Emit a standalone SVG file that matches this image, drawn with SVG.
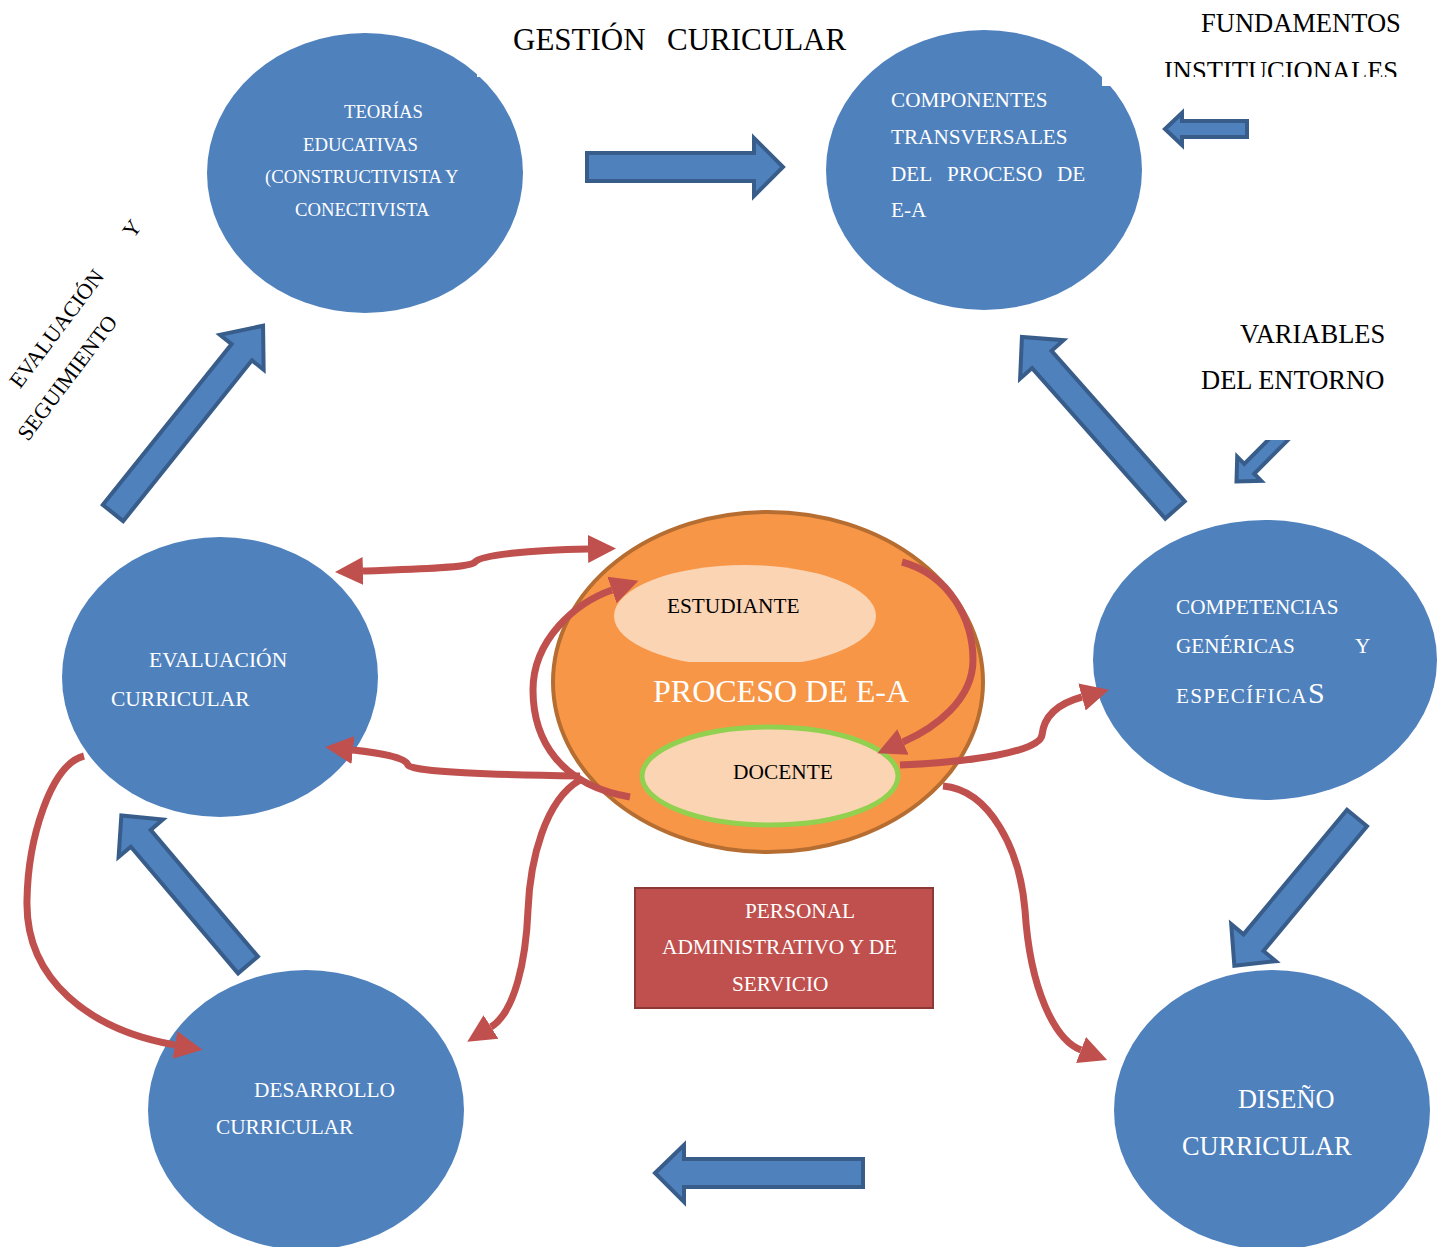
<svg xmlns="http://www.w3.org/2000/svg" width="1447" height="1247" viewBox="0 0 1447 1247">
<style>
text{font-family:"Liberation Serif","Times New Roman",serif}
.blk{fill:#000}
.wht{fill:#fff}
.node{fill:#4F81BD}
.barrow{fill:#4F81BD;stroke:#385D8A;stroke-width:4;stroke-linejoin:miter}
.rc{fill:none;stroke:#C0504D;stroke-width:7;marker-end:url(#rh)}
</style>
<defs>
<marker id="rh" markerUnits="userSpaceOnUse" markerWidth="30" markerHeight="30" refX="0" refY="15" viewBox="0 0 30 30" orient="auto-start-reverse"><path d="M0,1 L28,15 L0,29 z" fill="#C0504D"/></marker>
<clipPath id="cInst"><rect x="1100" y="40" width="347" height="37"/></clipPath>
<clipPath id="cEst"><rect x="600" y="550" width="300" height="112"/></clipPath>
<clipPath id="c8"><rect x="1200" y="440" width="200" height="100"/></clipPath>
</defs>
<rect width="1447" height="1247" fill="#fff"/>

<g id="labels">
<text x="513" y="50" font-size="31" class="blk">GESTIÓN</text>
<text x="667" y="50" font-size="31" class="blk">CURICULAR</text>
<text x="1201" y="32" font-size="26.5" class="blk">FUNDAMENTOS</text>
<g clip-path="url(#cInst)"><text x="1164" y="80" font-size="26.5" class="blk">INSTITUCIONALES</text></g>
<text x="1240" y="343" font-size="26.5" class="blk">VARIABLES</text>
<text x="1201" y="389" font-size="26.5" class="blk">DEL ENTORNO</text>
<g transform="translate(28,442) rotate(-53)">
<text x="37" y="-38" font-size="22" class="blk">EVALUACIÓN</text>
<text x="225" y="-38" font-size="22" class="blk">Y</text>
<text x="0" y="0" font-size="22" class="blk">SEGUIMIENTO</text>
</g>
</g>

<g id="teorias">
<ellipse cx="365" cy="173" rx="158" ry="140" class="node"/>
<rect x="477" y="72" width="8" height="5" fill="#fff"/>
<text x="344" y="118" font-size="18.7" class="wht">TEORÍAS</text>
<text x="303" y="151" font-size="18.7" class="wht">EDUCATIVAS</text>
<text x="265" y="183" font-size="18.7" class="wht">(CONSTRUCTIVISTA Y</text>
<text x="295" y="216" font-size="18.7" class="wht">CONECTIVISTA</text>
</g>

<g id="componentes">
<ellipse cx="984" cy="170" rx="158" ry="140" class="node"/>
<rect x="1102" y="74" width="11" height="12" fill="#fff"/>
<text x="891" y="107" font-size="21.2" class="wht">COMPONENTES</text>
<text x="891" y="144" font-size="21.2" class="wht">TRANSVERSALES</text>
<text x="891" y="181" font-size="21.2" class="wht">DEL</text>
<text x="947" y="181" font-size="21.2" class="wht">PROCESO</text>
<text x="1057" y="181" font-size="21.2" class="wht">DE</text>
<text x="891" y="217" font-size="21.2" class="wht">E-A</text>
</g>

<g id="evaluacion">
<ellipse cx="220" cy="677" rx="158" ry="140" class="node"/>
<text x="149" y="667" font-size="21.5" class="wht">EVALUACIÓN</text>
<text x="111" y="706" font-size="21.5" class="wht">CURRICULAR</text>
</g>

<g id="competencias">
<ellipse cx="1265" cy="660" rx="172" ry="140" class="node"/>
<text x="1176" y="614" font-size="21.2" class="wht">COMPETENCIAS</text>
<text x="1176" y="653" font-size="21.2" class="wht">GENÉRICAS</text>
<text x="1355" y="653" font-size="21.2" class="wht">Y</text>
<text x="1176" y="703" font-size="21.2" class="wht" letter-spacing="1.3">ESPECÍFICA<tspan font-size="30" letter-spacing="0">S</tspan></text>
</g>

<g id="desarrollo">
<ellipse cx="306" cy="1110" rx="158" ry="140" class="node"/>
<text x="254" y="1097" font-size="21.3" class="wht">DESARROLLO</text>
<text x="216" y="1134" font-size="21.3" class="wht">CURRICULAR</text>
</g>

<g id="diseno">
<ellipse cx="1272" cy="1110" rx="158" ry="140" class="node"/>
<text x="1238" y="1108" font-size="26.3" class="wht">DISEÑO</text>
<text x="1182" y="1155" font-size="26.3" class="wht">CURRICULAR</text>
</g>

<g id="proceso">
<ellipse cx="768" cy="682" rx="215" ry="170" fill="#F79646" stroke="#B66D31" stroke-width="4"/>
<g clip-path="url(#cEst)"><ellipse cx="745" cy="616" rx="131" ry="51" fill="#FBD4B4"/></g>
<text x="667" y="613" font-size="21.3" class="blk">ESTUDIANTE</text>
<text x="653" y="702" font-size="32" class="wht">PROCESO DE E-A</text>
<ellipse cx="770" cy="776" rx="128" ry="49" fill="#FBD4B4" stroke="#92D050" stroke-width="5"/>
<text x="733" y="779" font-size="21.4" class="blk">DOCENTE</text>
</g>

<g id="personal">
<rect x="635" y="888" width="298" height="120" fill="#C0504D" stroke="#8C3836" stroke-width="2"/>
<text x="745" y="918" font-size="21.3" class="wht">PERSONAL</text>
<text x="662" y="954" font-size="21.3" class="wht">ADMINISTRATIVO Y DE</text>
<text x="732" y="991" font-size="21.3" class="wht">SERVICIO</text>
</g>

<g id="connectors">
<polygon class="barrow" points="587,153 754,153 754,138 783,167 754,196 754,181 587,181"/>
<polygon class="barrow" points="863,1159 684,1159 684,1145 655,1173 684,1202 684,1187 863,1187"/>
<polygon class="barrow" points="1247,121 1182,121 1182,113 1165,129 1182,145 1182,137 1247,137"/>
<polygon class="barrow" points="0,-13 206,-13 206,-28 240,0 206,28 206,13 0,13" transform="translate(113,513) rotate(-51.3)"/>
<polygon class="barrow" points="0,-13 166,-13 166,-29 196,0 166,29 166,13 0,13" transform="translate(248,965) rotate(-130.25)"/>
<polygon class="barrow" points="0,-13 201,-13 201,-29 231,0 201,29 201,13 0,13" transform="translate(1175,510) rotate(-131.5)"/>
<polygon class="barrow" points="0,-13 162,-13 162,-29 192,0 162,29 162,13 0,13" transform="translate(1357,818) rotate(129.7)"/>
<g clip-path="url(#c8)"><polygon class="barrow" points="0,-7 52,-7 52,-17 70,0 52,17 52,7 0,7" transform="translate(1286,432) rotate(135)"/></g>

<path class="rc" style="marker-start:url(#rh)" d="M363,571 C420,569 470,568 475,562 C480,555 530,550 588,549"/>
<path class="rc" d="M580,776 C500,775 410,772 408,765 C405,757 380,753 353,750"/>
<path class="rc" d="M630,797 C560,785 533,740 533,690 C533,640 575,603 612,590"/>
<path class="rc" d="M902,562 C950,575 973,620 973,660 C973,700 935,728 903,742"/>
<path class="rc" d="M900,765 C970,762 1040,752 1042,735 C1044,715 1060,703 1082,697"/>
<path class="rc" d="M943,786 C990,790 1020,850 1025,910 C1030,990 1055,1040 1081,1050"/>
<path class="rc" d="M580,780 C545,800 530,860 528,910 C526,960 515,1012 491,1027"/>
<path class="rc" d="M84,756 C50,765 28,840 27,900 C25,980 90,1030 175,1045"/>
</g>
</svg>
